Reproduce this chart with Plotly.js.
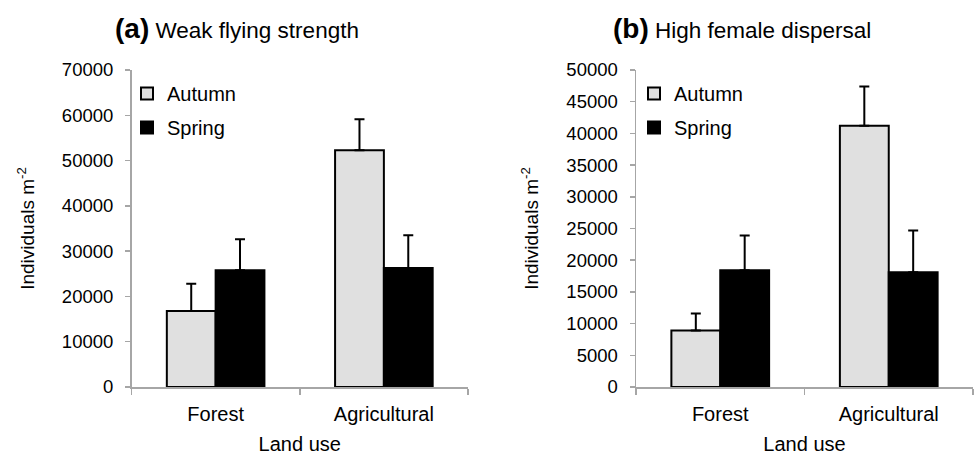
<!DOCTYPE html>
<html>
<head>
<meta charset="utf-8">
<script src="https://cdn.plot.ly/plotly-3.0.1.min.js"></script>
<style>html,body{margin:0;padding:0;background:#fff;}#chart{width:974px;height:455px;}</style>
</head>
<body>
<div id="chart"></div>
<script>
// Data
const categories = ["Forest", "Agricultural"];
const seasons = ["Autumn", "Spring"];
// Panel (a) Weak flying strength
const weakAutumn = [16800, 52300];
const weakAutumnErr = [6000, 6800];
const weakSpring = [25800, 26300];
const weakSpringErr = [6800, 7200];
// Panel (b) High female dispersal
const femAutumn = [8900, 41200];
const femAutumnErr = [2700, 6200];
const femSpring = [18400, 18100];
const femSpringErr = [5500, 6600];

const panelTitles = ["(a)", "(b)"];
const panelSubtitles = ["Weak flying strength", "High female dispersal"];
const yTitle = "Individuals m<sup>-2</sup>";
const xTitle = "Land use";

const FONT = "Liberation Sans, Arial, sans-serif";
const fillColors = ["#e0e0e0", "#000000"];

function barTrace(name, y, err, color, xa, ya, legend, showlegend) {
  return {
    type: "bar", name: name, x: categories, y: y,
    xaxis: xa, yaxis: ya, legend: legend, showlegend: showlegend,
    legendgroup: name + legend,
    marker: {color: color, line: {color: "#000", width: 2}},
    error_y: {type: "data", symmetric: false, array: err, arrayminus: err.map(() => 0),
              color: "#000", thickness: 2, width: 5},
    hoverinfo: "skip"
  };
}

const data = [
  barTrace(seasons[0], weakAutumn, weakAutumnErr, fillColors[0], "x", "y", "legend", true),
  barTrace(seasons[1], weakSpring, weakSpringErr, fillColors[1], "x", "y", "legend", true),
  barTrace(seasons[0], femAutumn, femAutumnErr, fillColors[0], "x2", "y2", "legend2", true),
  barTrace(seasons[1], femSpring, femSpringErr, fillColors[1], "x2", "y2", "legend2", true)
];

const axisGray = "#a6a6a6";
function xAxis(domain, anchor) {
  return {
    domain: domain, anchor: anchor, type: "category", range: [-0.5, 1.5],
    showline: true, linecolor: axisGray, linewidth: 1.5,
    ticks: "outside", tickson: "boundaries", ticklen: 6, tickcolor: axisGray, tickwidth: 1.5,
    ticklabelstandoff: 8,
    showgrid: false, zeroline: false,
    tickfont: {family: FONT, size: 20, color: "#000"},
    title: {text: xTitle, font: {family: FONT, size: 20, color: "#000"}, standoff: 13}
  };
}
function yAxis(domain, anchor, max, dtick) {
  return {
    domain: domain, anchor: anchor, range: [0, max], dtick: dtick, tickformat: "d",
    showline: true, linecolor: axisGray, linewidth: 1.5,
    ticks: "outside", ticklen: 5, tickcolor: axisGray, tickwidth: 1.5,
    ticklabelstandoff: 8,
    showgrid: false, zeroline: false,
    tickfont: {family: FONT, size: 18.5, color: "#000"},
    title: {text: yTitle, font: {family: FONT, size: 19, color: "#000"}, standoff: 22}
  };
}

const yDom = [68 / 455, 385 / 455];
const layout = {
  width: 974, height: 455,
  margin: {l: 0, r: 0, t: 0, b: 0},
  paper_bgcolor: "#fff", plot_bgcolor: "#fff",
  font: {family: FONT, color: "#000"},
  barmode: "group", bargap: 0.42, bargroupgap: 0,
  xaxis: xAxis([131.5 / 974, 468 / 974], "y"),
  yaxis: yAxis(yDom, "x", 70000, 10000),
  xaxis2: xAxis([636 / 974, 973 / 974], "y2"),
  yaxis2: yAxis(yDom, "x2", 50000, 5000),
  legend: {x: 127 / 974, y: 1 - 74 / 455, xanchor: "left", yanchor: "top",
           font: {family: FONT, size: 20, color: "#000"}, bgcolor: "rgba(0,0,0,0)",
           tracegroupgap: 5, traceorder: "grouped"},
  legend2: {x: 634 / 974, y: 1 - 74 / 455, xanchor: "left", yanchor: "top",
           font: {family: FONT, size: 20, color: "#000"}, bgcolor: "rgba(0,0,0,0)",
           tracegroupgap: 5, traceorder: "grouped"},
  annotations: [0, 1].map(i => ({
    xref: "paper", yref: "paper", x: [237 / 974, 742 / 974][i], y: 1 - 28 / 455,
    xanchor: "center", yanchor: "middle", showarrow: false,
    text: "<b><span style='font-size:28px'>" + panelTitles[i] + "</span></b> " + panelSubtitles[i],
    font: {family: FONT, size: 22.5, color: "#000"}
  }))
};

Plotly.newPlot("chart", data, layout, {displayModeBar: false, staticPlot: true});
</script>
</body>
</html>
